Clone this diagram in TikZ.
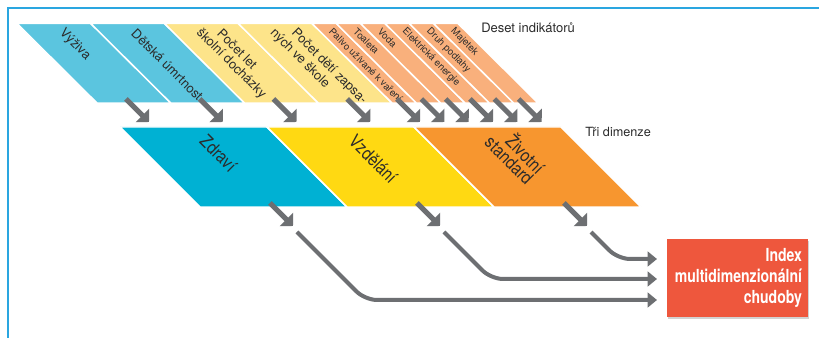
\documentclass[tikz,border=0pt]{standalone}
\usepackage{fontspec}
\setmainfont{TeX Gyre Heros}
\newfontfamily\cond{TeX Gyre Heros}[FakeStretch=0.78]
\newfontfamily\semicond{TeX Gyre Heros}[FakeStretch=0.85]
\usetikzlibrary{arrows.meta,shadows}
\definecolor{frameblue}{HTML}{2AA6E0}
\definecolor{lblue}{HTML}{5BC5DF}
\definecolor{lyellow}{HTML}{FDE48A}
\definecolor{lorange}{HTML}{F9B07C}
\definecolor{dblue}{HTML}{00B1D3}
\definecolor{dyellow}{HTML}{FFD912}
\definecolor{dorange}{HTML}{F7962F}
\definecolor{arrowgray}{HTML}{6D6F72}
\definecolor{boxred}{HTML}{EE573D}
\definecolor{txt}{HTML}{2B2B2B}
\begin{document}
\begin{tikzpicture}[x=0.75pt,y=-0.75pt,
  strip/.style={fill=#1, draw=white, line width=1.1pt, line join=miter},
  lab/.style={anchor=west, rotate=-45, inner sep=0pt, text=txt, font=\fontsize{9.75}{12}\selectfont},
  slab/.style={lab, font=\fontsize{7.25}{8}\selectfont},
  mlab/.style={lab, font=\semicond\fontsize{13.5}{15}\selectfont},
  sarrow/.style={draw=arrowgray, line width=3.75pt, -{Triangle[width=14pt,length=7pt]}},
  link/.style={draw=arrowgray, line width=3pt, rounded corners=9pt, -{Triangle[width=11pt,length=7pt]}},
  head/.style={anchor=base west, inner sep=0pt, text=txt, font=\fontsize{9.75}{12}\selectfont},
  box/.style={fill=boxred, text=white, minimum width=105.75pt, minimum height=58.5pt,
    inner xsep=4.5pt, text width=96.75pt, align=right,
    font=\cond\bfseries\fontsize{13.5}{16}\selectfont,
    drop shadow={opacity=0.35, shadow xshift=1pt, shadow yshift=-1.2pt}},
]
\useasboundingbox (0,0) rectangle (819,338);
\fill[white] (0,0) rectangle (819,338);
\draw[frameblue, line width=1.5pt] (8,338) -- (8,8) -- (819,8);

% top band: ten indicators
\draw[strip=lblue] (17,23.5) -- (90.75,23.5) -- (170.75,103) -- (97,103) -- cycle;
\draw[strip=lblue] (90.75,23.5) -- (164.5,23.5) -- (244.5,103) -- (170.75,103) -- cycle;
\draw[strip=lyellow] (164.5,23.5) -- (238.25,23.5) -- (318.25,103) -- (244.5,103) -- cycle;
\draw[strip=lyellow] (238.25,23.5) -- (312,23.5) -- (392,103) -- (318.25,103) -- cycle;
\foreach \k in {0,...,5}{
  \pgfmathsetmacro{\a}{312+24.333*\k}
  \pgfmathsetmacro{\b}{\a+24.333}
  \draw[strip=lorange] (\a,23.5) -- (\b,23.5) -- (\b+80,103) -- (\a+80,103) -- cycle;
}

\node[lab] (t1) at (61.4,31) {Výživa};
\node[lab] (t2) at (133.5,31) {Dětská úmrtnost};
\node[lab] (t3a) at (219.5,31) {Počet let};
\node[lab] (t3b) at (198.3,31) {školní docházky};
\node[lab] (t4a) at (293.2,31) {Počet dětí zapsa-};
\node[lab] (t4b) at (272,31) {ných ve škole};
\node[slab] (o1) at (330.7,30) {Palivo užívané k vaření};
\node[slab] (o2) at (355.0,30) {Toaleta};
\node[slab] (o3) at (379.3,30) {Voda};
\node[slab] (o4) at (403.7,30) {Elektrická energie};
\node[slab] (o5) at (428.0,30) {Druh podlahy};
\node[slab] (o6) at (452.3,30) {Majetek};
\node[head] (h1) at (481,33) {Deset indikátorů};

% middle band: three dimensions
\draw[strip=dblue] (120,127) -- (267,127) -- (347,207) -- (200,207) -- cycle;
\draw[strip=dyellow] (267,127) -- (414,127) -- (494,207) -- (347,207) -- cycle;
\draw[strip=dorange] (414,127) -- (561,127) -- (641,207) -- (494,207) -- cycle;
\node[mlab] (d1) at (203,138) {Zdraví};
\node[mlab] (d2) at (352,138) {Vzdělání};
\node[mlab] (d3a) at (510,137) {Životní};
\node[mlab] (d3b) at (488,139) {standard};
\node[head, font=\fontsize{9.5}{12}\selectfont] (h2) at (585,137) {Tři dimenze};

% short arrows from indicators
\foreach \x [count=\i] in {126,199.75,273.5,347.25,397,421.3,445.7,470,494.3,518.7}{
  \coordinate (ts\i) at (\x,99);
  \coordinate (te\i) at (\x+23,122);
  \draw[sarrow] (ts\i) -- (te\i);
}
% short arrows from dimensions
\foreach \x [count=\i] in {270,417,564}{
  \coordinate (ms\i) at (\x,203);
  \coordinate (me\i) at (\x+23,226);
  \draw[sarrow] (ms\i) -- (me\i);
}

% index box
\node[box] (idx) at (737.5,278) {Index\\multidimenzionální\\chudoby};

% connectors
\coordinate (c1s) at (297,232); \coordinate (c1k) at (365,300); \coordinate (c1e) at (657,300);
\coordinate (c2s) at (444,232); \coordinate (c2k) at (491,279); \coordinate (c2e) at (657,279);
\coordinate (c3s) at (591,232); \coordinate (c3k) at (618,259); \coordinate (c3e) at (657,259);
\draw[link] (c1s) -- (c1k) -- (c1e);
\draw[link] (c2s) -- (c2k) -- (c2e);
\draw[link] (c3s) -- (c3k) -- (c3e);
\end{tikzpicture}
\end{document}
